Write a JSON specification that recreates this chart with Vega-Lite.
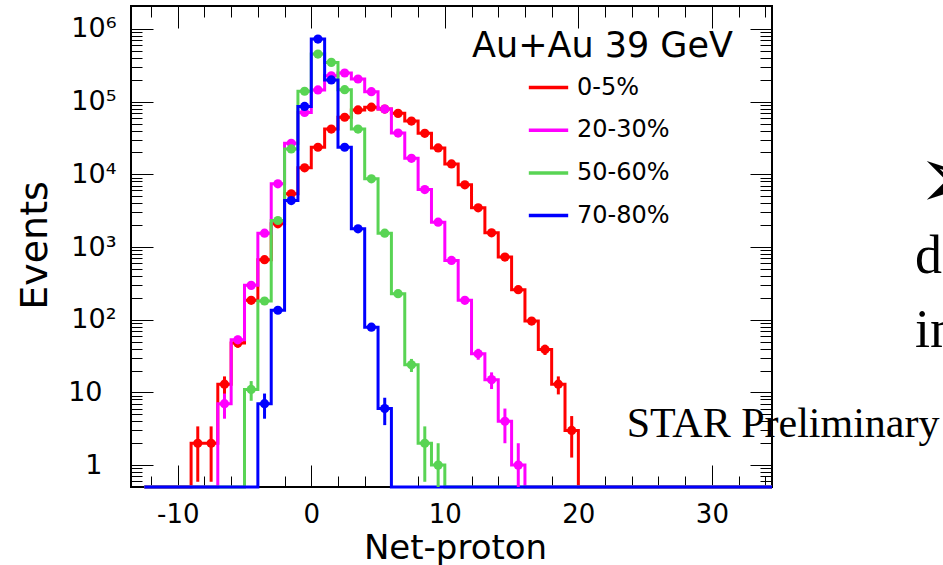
{
  "$schema": "https://vega.github.io/schema/vega-lite/v6.json",
  "width": 641,
  "height": 481,
  "autosize": {"type": "none"},
  "padding": {"left": 131, "top": 6, "right": 171, "bottom": 78},
  "background": "white",
  "config": {"view": {"stroke": "black", "strokeWidth": 2}, "font": "DejaVu Sans"},
  "datasets": {
    "h": [
      {"c": "0-5%", "x": -12.5, "n": 0},
      {"c": "0-5%", "x": -9.5, "n": 0},
      {"c": "0-5%", "x": -8.5, "n": 2, "lo": 0.59, "hi": 3.41},
      {"c": "0-5%", "x": -7.5, "n": 2, "lo": 0.59, "hi": 3.41},
      {"c": "0-5%", "x": -6.5, "n": 13, "lo": 9.39, "hi": 16.61},
      {"c": "0-5%", "x": -5.5, "n": 48, "lo": 41.07, "hi": 54.93},
      {"c": "0-5%", "x": -4.5, "n": 185, "lo": 171.4, "hi": 198.6},
      {"c": "0-5%", "x": -3.5, "n": 670},
      {"c": "0-5%", "x": -2.5, "n": 2090},
      {"c": "0-5%", "x": -1.5, "n": 5400},
      {"c": "0-5%", "x": -0.5, "n": 12300},
      {"c": "0-5%", "x": 0.5, "n": 23600},
      {"c": "0-5%", "x": 1.5, "n": 42000},
      {"c": "0-5%", "x": 2.5, "n": 61000},
      {"c": "0-5%", "x": 3.5, "n": 77000},
      {"c": "0-5%", "x": 4.5, "n": 84000},
      {"c": "0-5%", "x": 5.5, "n": 79000},
      {"c": "0-5%", "x": 6.5, "n": 69000},
      {"c": "0-5%", "x": 7.5, "n": 54000},
      {"c": "0-5%", "x": 8.5, "n": 36700},
      {"c": "0-5%", "x": 9.5, "n": 23100},
      {"c": "0-5%", "x": 10.5, "n": 13900},
      {"c": "0-5%", "x": 11.5, "n": 7180},
      {"c": "0-5%", "x": 12.5, "n": 3470},
      {"c": "0-5%", "x": 13.5, "n": 1570},
      {"c": "0-5%", "x": 14.5, "n": 727},
      {"c": "0-5%", "x": 15.5, "n": 259, "lo": 242.9, "hi": 275.1},
      {"c": "0-5%", "x": 16.5, "n": 96, "lo": 86.2, "hi": 105.8},
      {"c": "0-5%", "x": 17.5, "n": 39, "lo": 32.76, "hi": 45.24},
      {"c": "0-5%", "x": 18.5, "n": 13, "lo": 9.39, "hi": 16.61},
      {"c": "0-5%", "x": 19.5, "n": 3, "lo": 1.27, "hi": 4.73},
      {"c": "0-5%", "x": 20.5, "n": 0},
      {"c": "0-5%", "x": 34.5, "n": 0},
      {"c": "20-30%", "x": -12.5, "n": 0},
      {"c": "20-30%", "x": -7.5, "n": 0},
      {"c": "20-30%", "x": -6.5, "n": 7, "lo": 4.35, "hi": 9.65},
      {"c": "20-30%", "x": -5.5, "n": 53, "lo": 45.72, "hi": 60.28},
      {"c": "20-30%", "x": -4.5, "n": 297, "lo": 279.8, "hi": 314.2},
      {"c": "20-30%", "x": -3.5, "n": 1553},
      {"c": "20-30%", "x": -2.5, "n": 7400},
      {"c": "20-30%", "x": -1.5, "n": 26700},
      {"c": "20-30%", "x": -0.5, "n": 71000},
      {"c": "20-30%", "x": 0.5, "n": 145000},
      {"c": "20-30%", "x": 1.5, "n": 227000},
      {"c": "20-30%", "x": 2.5, "n": 248000},
      {"c": "20-30%", "x": 3.5, "n": 205000},
      {"c": "20-30%", "x": 4.5, "n": 137000},
      {"c": "20-30%", "x": 5.5, "n": 79000},
      {"c": "20-30%", "x": 6.5, "n": 37000},
      {"c": "20-30%", "x": 7.5, "n": 16600},
      {"c": "20-30%", "x": 8.5, "n": 6180},
      {"c": "20-30%", "x": 9.5, "n": 2200},
      {"c": "20-30%", "x": 10.5, "n": 655},
      {"c": "20-30%", "x": 11.5, "n": 185, "lo": 171.4, "hi": 198.6},
      {"c": "20-30%", "x": 12.5, "n": 34, "lo": 28.17, "hi": 39.83},
      {"c": "20-30%", "x": 13.5, "n": 15, "lo": 11.13, "hi": 18.87},
      {"c": "20-30%", "x": 14.5, "n": 4, "lo": 2, "hi": 6},
      {"c": "20-30%", "x": 15.5, "n": 1, "lo": 0, "hi": 2},
      {"c": "20-30%", "x": 16.5, "n": 0},
      {"c": "20-30%", "x": 34.5, "n": 0},
      {"c": "50-60%", "x": -12.5, "n": 0},
      {"c": "50-60%", "x": -5.5, "n": 0},
      {"c": "50-60%", "x": -4.5, "n": 11, "lo": 7.68, "hi": 14.32},
      {"c": "50-60%", "x": -3.5, "n": 181, "lo": 167.5, "hi": 194.5},
      {"c": "50-60%", "x": -2.5, "n": 2318},
      {"c": "50-60%", "x": -1.5, "n": 22400},
      {"c": "50-60%", "x": -0.5, "n": 139000},
      {"c": "50-60%", "x": 0.5, "n": 452000},
      {"c": "50-60%", "x": 1.5, "n": 347000},
      {"c": "50-60%", "x": 2.5, "n": 146000},
      {"c": "50-60%", "x": 3.5, "n": 42000},
      {"c": "50-60%", "x": 4.5, "n": 8670},
      {"c": "50-60%", "x": 5.5, "n": 1553},
      {"c": "50-60%", "x": 6.5, "n": 228, "lo": 212.9, "hi": 243.1},
      {"c": "50-60%", "x": 7.5, "n": 24, "lo": 19.1, "hi": 28.9},
      {"c": "50-60%", "x": 8.5, "n": 2, "lo": 0.59, "hi": 3.41},
      {"c": "50-60%", "x": 9.5, "n": 1, "lo": 0, "hi": 2},
      {"c": "50-60%", "x": 10.5, "n": 0},
      {"c": "50-60%", "x": 34.5, "n": 0},
      {"c": "70-80%", "x": -12.5, "n": 0},
      {"c": "70-80%", "x": -4.5, "n": 0},
      {"c": "70-80%", "x": -3.5, "n": 7, "lo": 4.35, "hi": 9.65},
      {"c": "70-80%", "x": -2.5, "n": 135, "lo": 123.4, "hi": 146.6},
      {"c": "70-80%", "x": -1.5, "n": 4365},
      {"c": "70-80%", "x": -0.5, "n": 86000},
      {"c": "70-80%", "x": 0.5, "n": 726000},
      {"c": "70-80%", "x": 1.5, "n": 199000},
      {"c": "70-80%", "x": 2.5, "n": 23600},
      {"c": "70-80%", "x": 3.5, "n": 1783},
      {"c": "70-80%", "x": 4.5, "n": 79, "lo": 70.11, "hi": 87.89},
      {"c": "70-80%", "x": 5.5, "n": 6, "lo": 3.55, "hi": 8.45},
      {"c": "70-80%", "x": 6.5, "n": 0},
      {"c": "70-80%", "x": 34.5, "n": 0}
    ]
  },
  "layer": [
    {
      "data": {"name": "h"},
      "mark": {"type": "line", "interpolate": "step", "strokeWidth": 3, "clip": false},
      "encoding": {
        "x": {
          "field": "x", "type": "quantitative",
          "scale": {"domain": [-13.5, 34.5], "nice": false, "zero": false},
          "axis": {
            "orient": "bottom",
            "values": [-12, -10, -8, -6, -4, -2, 0, 2, 4, 6, 8, 10, 12, 14, 16, 18, 20, 22, 24, 26, 28, 30, 32, 34],
            "labelExpr": "datum.value % 10 == 0 ? '' + datum.value : ''",
            "tickSize": {"condition": {"test": "datum.value % 10 == 0", "value": -22}, "value": -11},
            "tickColor": "black", "tickWidth": 1, "domain": false, "grid": false,
            "labelFont": "DejaVu Sans", "labelFontSize": 26, "labelColor": "black",
            "labelPadding": 36, "labelOverlap": false, "labelBound": false, "labelFlush": false,
            "title": "Net-proton", "titleFont": "DejaVu Sans", "titleFontSize": 34, "titleFontWeight": "normal",
            "titleColor": "black", "titleX": 324, "titleY": 71, "titleBaseline": "alphabetic", "titleAlign": "center"
          }
        },
        "y": {
          "field": "n", "type": "quantitative",
          "scale": {"type": "log", "domain": [0.5, 2070000], "nice": false, "clamp": true},
          "axis": {
            "orient": "left",
            "values": [0.6, 0.7, 0.8, 0.9, 1, 2, 3, 4, 5, 6, 7, 8, 9, 10, 20, 30, 40, 50, 60, 70, 80, 90, 100, 200, 300, 400, 500, 600, 700, 800, 900, 1000, 2000, 3000, 4000, 5000, 6000, 7000, 8000, 9000, 10000, 20000, 30000, 40000, 50000, 60000, 70000, 80000, 90000, 100000, 200000, 300000, 400000, 500000, 600000, 700000, 800000, 900000, 1000000],
            "labelExpr": "datum.value == 1 ? '1' : datum.value == 10 ? '10' : datum.value == 100 ? '10²' : datum.value == 1000 ? '10³' : datum.value == 10000 ? '10⁴' : datum.value == 100000 ? '10⁵' : datum.value == 1000000 ? '10⁶' : ''",
            "tickSize": {"condition": {"test": "indexof([1, 10, 100, 1000, 10000, 100000, 1000000], datum.value) >= 0", "value": -22}, "value": -11},
            "tickColor": "black", "tickWidth": 1, "domain": false, "grid": false,
            "labelFont": "DejaVu Sans", "labelFontSize": 27, "labelColor": "black",
            "labelPadding": {"condition": {"test": "datum.value < 100", "value": 51}, "value": 37},
            "labelOverlap": false, "labelBound": false, "labelFlush": false,
            "title": "Events", "titleFont": "DejaVu Sans", "titleFontSize": 38, "titleFontWeight": "normal",
            "titleColor": "black", "titleX": -85, "titleY": 239, "titleAngle": -90, "titleBaseline": "alphabetic", "titleAlign": "center"
          }
        },
        "color": {
          "field": "c", "type": "nominal",
          "scale": {"domain": ["0-5%", "20-30%", "50-60%", "70-80%"], "range": ["#ff0000", "#ff00ff", "#59d454", "#0000ff"]},
          "legend": {
            "orient": "none", "legendX": 341, "legendY": 23, "padding": 0,
            "title": "Au+Au 39 GeV", "titleFont": "DejaVu Sans", "titleFontSize": 35, "titleFontWeight": "normal",
            "titleColor": "black", "titleLimit": 500, "titlePadding": 2,
            "labelFont": "DejaVu Sans", "labelFontSize": 24, "labelColor": "black", "labelLimit": 300,
            "symbolType": "stroke", "symbolSize": 1550, "symbolStrokeWidth": 3.5,
            "symbolOffset": 55, "labelOffset": 7, "rowPadding": 8.7
          }
        }
      }
    },
    {
      "data": {"name": "h"},
      "transform": [{"filter": "datum.lo != null"}],
      "mark": {"type": "rule", "strokeWidth": 3},
      "encoding": {
        "x": {"field": "x", "type": "quantitative", "axis": null},
        "y": {"field": "lo", "type": "quantitative", "axis": null},
        "y2": {"field": "hi"},
        "color": {"field": "c", "type": "nominal", "legend": null}
      }
    },
    {
      "data": {"name": "h"},
      "transform": [{"filter": "datum.n > 0"}],
      "mark": {"type": "point", "filled": true, "size": 85, "opacity": 1},
      "encoding": {
        "x": {
          "field": "x", "type": "quantitative",
          "axis": {
            "orient": "top",
            "values": [-12, -10, -8, -6, -4, -2, 0, 2, 4, 6, 8, 10, 12, 14, 16, 18, 20, 22, 24, 26, 28, 30, 32, 34],
            "labels": false, "title": null,
            "tickSize": {"condition": {"test": "datum.value % 10 == 0", "value": -22}, "value": -11},
            "tickColor": "black", "tickWidth": 1, "domain": false, "grid": false
          }
        },
        "y": {
          "field": "n", "type": "quantitative",
          "axis": {
            "orient": "right",
            "values": [0.6, 0.7, 0.8, 0.9, 1, 2, 3, 4, 5, 6, 7, 8, 9, 10, 20, 30, 40, 50, 60, 70, 80, 90, 100, 200, 300, 400, 500, 600, 700, 800, 900, 1000, 2000, 3000, 4000, 5000, 6000, 7000, 8000, 9000, 10000, 20000, 30000, 40000, 50000, 60000, 70000, 80000, 90000, 100000, 200000, 300000, 400000, 500000, 600000, 700000, 800000, 900000, 1000000],
            "labels": false, "title": null,
            "tickSize": {"condition": {"test": "indexof([1, 10, 100, 1000, 10000, 100000, 1000000], datum.value) >= 0", "value": -22}, "value": -12},
            "tickColor": "black", "tickWidth": 1, "domain": false, "grid": false
          }
        },
        "color": {"field": "c", "type": "nominal", "legend": null}
      }
    },
    {
      "data": {"values": [{"t": "STAR Preliminary"}]},
      "mark": {"type": "text", "font": "Liberation Serif", "fontSize": 42, "align": "left", "baseline": "alphabetic", "color": "black", "clip": false},
      "encoding": {
        "text": {"field": "t"},
        "x": {"datum": 23.62, "type": "quantitative", "axis": null},
        "y": {"datum": 2.45, "type": "quantitative", "axis": null}
      }
    },
    {
      "data": {"values": [{"t": "➢", "px": 45.35, "py": 7780}]},
      "mark": {"type": "text", "font": "DejaVu Sans", "fontSize": 88, "align": "left", "baseline": "middle", "color": "black", "clip": false},
      "encoding": {
        "text": {"field": "t"},
        "x": {"field": "px", "type": "quantitative", "axis": null},
        "y": {"field": "py", "type": "quantitative", "axis": null}
      }
    },
    {
      "data": {"values": [{"t": "d", "px": 45.21, "py": 436}, {"t": "in", "px": 45.21, "py": 41.9}]},
      "mark": {"type": "text", "font": "Liberation Serif", "fontSize": 54, "align": "left", "baseline": "alphabetic", "color": "black", "clip": false},
      "encoding": {
        "text": {"field": "t"},
        "x": {"field": "px", "type": "quantitative", "axis": null},
        "y": {"field": "py", "type": "quantitative", "axis": null}
      }
    }
  ],
  "resolve": {"axis": {"x": "independent", "y": "independent"}}
}
